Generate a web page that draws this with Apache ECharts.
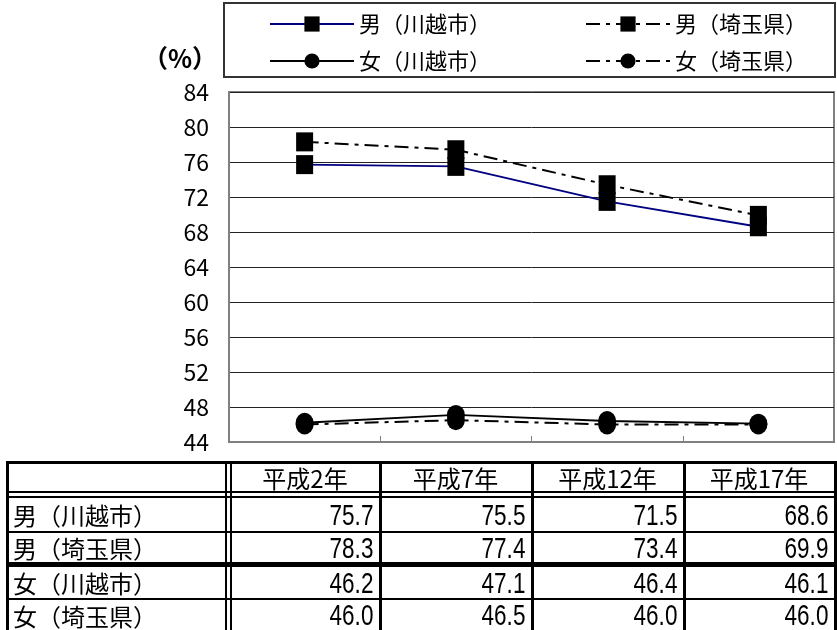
<!DOCTYPE html>
<html>
<head>
<meta charset="utf-8">
<script src="https://cdn.jsdelivr.net/npm/echarts@6/dist/echarts.min.js"></script>
<style>
  html, body { margin: 0; padding: 0; background: #fff; }
  #wrap { position: relative; width: 837px; height: 630px; overflow: hidden; }
  #chart { position: absolute; left: 0; top: 0; width: 837px; height: 630px; }
  #table { position: absolute; left: 0; top: 0; width: 837px; height: 630px; pointer-events: none; }
  .ln { position: absolute; background: #000; }
  .cell { position: absolute; font-family: 'Noto Sans CJK JP', sans-serif; color: #000; white-space: nowrap; display: flex; align-items: center; }
  .lbl { font-size: 24px; justify-content: flex-start; }
  .hdr { font-size: 24px; justify-content: center; }
  .num { justify-content: flex-end; }
  .num span { display: inline-block; font-family: 'Liberation Sans', Arial, sans-serif; font-size: 30px; transform: scaleX(0.75); transform-origin: right center; }
</style>
</head>
<body>
<div id="wrap">
  <div id="chart"></div>
  <div id="table"></div>
</div>
<script>
// ---- data ----
const categories = ['平成2年', '平成7年', '平成12年', '平成17年'];
const seriesNames = ['男（川越市）', '男（埼玉県）', '女（川越市）', '女（埼玉県）'];
const maleKawagoe = [75.7, 75.5, 71.5, 68.6];
const maleSaitama = [78.3, 77.4, 73.4, 69.9];
const femaleKawagoe = [46.2, 47.1, 46.4, 46.1];
const femaleSaitama = [46.0, 46.5, 46.0, 46.0];
const yMin = 44, yMax = 84, yStep = 4;
const unitLabel = '（%）';

const seriesValues = [maleKawagoe, maleSaitama, femaleKawagoe, femaleSaitama];

// ---- chart ----
const chart = echarts.init(document.getElementById('chart'), null, { renderer: 'canvas' });
const dashDot = [14, 6, 4, 6];
const styles = [
  { color: '#000080', type: 'solid', symbol: 'rect', size: [17, 19] },
  { color: '#000000', type: dashDot, symbol: 'rect', size: [17, 19] },
  { color: '#000000', type: 'solid', symbol: 'circle', size: [18, 20] },
  { color: '#000000', type: dashDot, symbol: 'circle', size: [18, 20] }
];

const series = seriesNames.map((name, i) => ({
  name: name,
  type: 'line',
  data: seriesValues[i],
  symbol: styles[i].symbol,
  symbolSize: styles[i].size,
  lineStyle: { color: styles[i].color, width: 2, type: styles[i].type },
  itemStyle: { color: '#000' },
  emphasis: { disabled: true },
  animation: false
}));

const legendText = { fontFamily: 'Noto Sans CJK JP', fontSize: 22, color: '#000' };

chart.setOption({
  animation: false,
  grid: { left: 229, right: 3, top: 92, bottom: 188, show: true, borderColor: '#808080', borderWidth: 2, containLabel: false },
  legend: [
    { data: [seriesNames[0], seriesNames[2]], orient: 'vertical', left: 264, top: 8, itemWidth: 84, itemHeight: 19, itemGap: 15, textStyle: legendText, selectedMode: false },
    { data: [seriesNames[1], seriesNames[3]], orient: 'vertical', left: 580, top: 8, itemWidth: 84, itemHeight: 19, itemGap: 15, textStyle: legendText, selectedMode: false }
  ],
  graphic: [
    { type: 'rect', shape: { x: 224, y: 3, width: 611, height: 74 }, style: { fill: 'none', stroke: '#333', lineWidth: 2 }, z: 0 },
    { type: 'text', x: 180, y: 58, style: { text: unitLabel, fontFamily: 'Noto Sans CJK JP', fontSize: 25, fontWeight: 'bold', fill: '#000', align: 'center', verticalAlign: 'middle' } }
  ],
  xAxis: {
    type: 'category', data: categories, boundaryGap: true,
    axisLine: { lineStyle: { color: '#808080', width: 2 } },
    axisTick: { show: true, inside: true, length: 6, lineStyle: { color: '#808080', width: 1 } },
    axisLabel: { show: false },
    splitLine: { show: false }
  },
  yAxis: {
    type: 'value', min: yMin, max: yMax, interval: yStep,
    axisLine: { show: true, lineStyle: { color: '#808080', width: 2 } },
    axisTick: { show: false },
    axisLabel: { margin: 20, fontFamily: 'Noto Sans CJK JP', fontSize: 23, color: '#000' },
    splitLine: { show: true, lineStyle: { color: '#222', width: 1 } }
  },
  series: series
});

// ---- data table below chart ----
const tbl = document.getElementById('table');
function line(x, y, w, h) {
  const d = document.createElement('div');
  d.className = 'ln';
  d.style.left = x + 'px'; d.style.top = y + 'px'; d.style.width = w + 'px'; d.style.height = h + 'px';
  tbl.appendChild(d);
}
function cell(cls, x, y, w, h, html) {
  const d = document.createElement('div');
  d.className = 'cell ' + cls;
  d.style.left = x + 'px'; d.style.top = y + 'px'; d.style.width = w + 'px'; d.style.height = h + 'px';
  d.innerHTML = html;
  tbl.appendChild(d);
}
const colX = [7, 232, 381, 533, 685, 836];   // cell boundaries
const L = 6, R = 837;
// horizontal rules
line(L, 461, R - L, 3);
line(L, 491, R - L, 2);
line(L, 496, R - L, 2);
line(L, 531, R - L, 2);
line(L, 562, R - L, 5);
line(L, 598, R - L, 2);
// vertical rules
line(6, 461, 3, 170);
line(225, 461, 2, 170);
line(230, 461, 2, 170);
line(379, 461, 3, 170);
line(531, 461, 3, 170);
line(683, 461, 3, 170);
line(834, 461, 3, 170);
// header
categories.forEach((c, j) => {
  cell('hdr', colX[j + 1], 464, colX[j + 2] - colX[j + 1] - 3, 27, c);
});
// rows
seriesNames.forEach((n, i) => {
  const top = [498, 533, 567, 600][i];
  const h = [33, 29, 31, 30][i];
  cell('lbl', 13, top, 212, h, n);
  seriesValues[i].forEach((v, j) => {
    const x0 = colX[j + 1];
    const x1 = colX[j + 2] - 3;
    cell('num', x0, top, x1 - x0 - 5, h, '<span>' + v.toFixed(1) + '</span>');
  });
});
</script>
</body>
</html>
